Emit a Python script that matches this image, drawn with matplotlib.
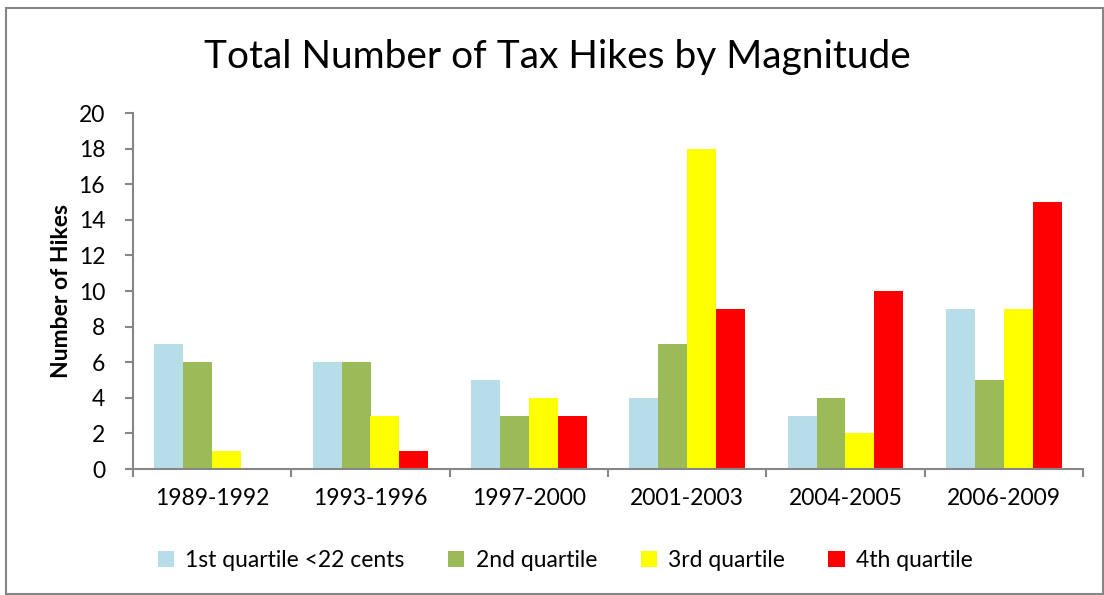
import matplotlib.pyplot as plt
import numpy as np
from matplotlib.patches import Rectangle

periods = ['1989-1992', '1993-1996', '1997-2000', '2001-2003', '2004-2005', '2006-2009']
q1 = [7, 6, 5, 4, 3, 9]
q2 = [6, 6, 3, 7, 4, 5]
q3 = [1, 3, 4, 18, 2, 9]
q4 = [0, 1, 3, 9, 10, 15]
series_names = ['1st quartile <22 cents', '2nd quartile', '3rd quartile', '4th quartile']
colors = ['#B7DEE8', '#9BBB59', '#FFFF00', '#FF0000']

plt.rcParams['font.family'] = ['Lato', 'DejaVu Sans']
axis_gray = '#868686'

fig = plt.figure(figsize=(11.04, 5.95), dpi=100)
ax = fig.add_axes([133/1104, 1-469/595, 950/1104, 356/595])

x = np.arange(len(periods))
w = 0.183
for i, (vals, name, c) in enumerate(zip([q1, q2, q3, q4], series_names, colors)):
    ax.bar(x + (i - 1.5) * w, vals, width=w, color=c, label=name, zorder=2)

ax.set_xlim(-0.5, len(periods) - 0.5)
ax.set_ylim(0, 20)
ax.set_yticks(range(0, 21, 2))
ax.set_xticks(x)
ax.set_xticklabels(periods)
ax.set_xticks(np.arange(-0.5, len(periods), 1), minor=True)
ax.tick_params(axis='x', which='major', length=0, labelsize=16.5, pad=14)
ax.tick_params(axis='x', which='minor', length=6, color=axis_gray, width=1.5)
ax.tick_params(axis='y', length=6, color=axis_gray, width=1.5, labelsize=16.5, pad=14)
for s in ['top', 'right']:
    ax.spines[s].set_visible(False)
for s in ['left', 'bottom']:
    ax.spines[s].set_color(axis_gray)
    ax.spines[s].set_linewidth(1.5)

ax.set_ylabel('Number of Hikes', fontsize=16.5, fontweight='bold', labelpad=5)
fig.text(0.505, 0.905, 'Total Number of Tax Hikes by Magnitude', fontsize=28, ha='center', va='center')

fig.legend(loc='center', bbox_to_anchor=(0.512, 0.058), ncol=4, frameon=False, fontsize=16.5,
           handlelength=0.7, handleheight=0.7, handletextpad=0.5, columnspacing=1.9)

fig.patches.append(Rectangle((6/1104, 0.002), 1-7/1104, 1-8/595-0.002, transform=fig.transFigure,
                             fill=False, edgecolor=axis_gray, linewidth=1.5))

plt.savefig('out.png', dpi=100)
